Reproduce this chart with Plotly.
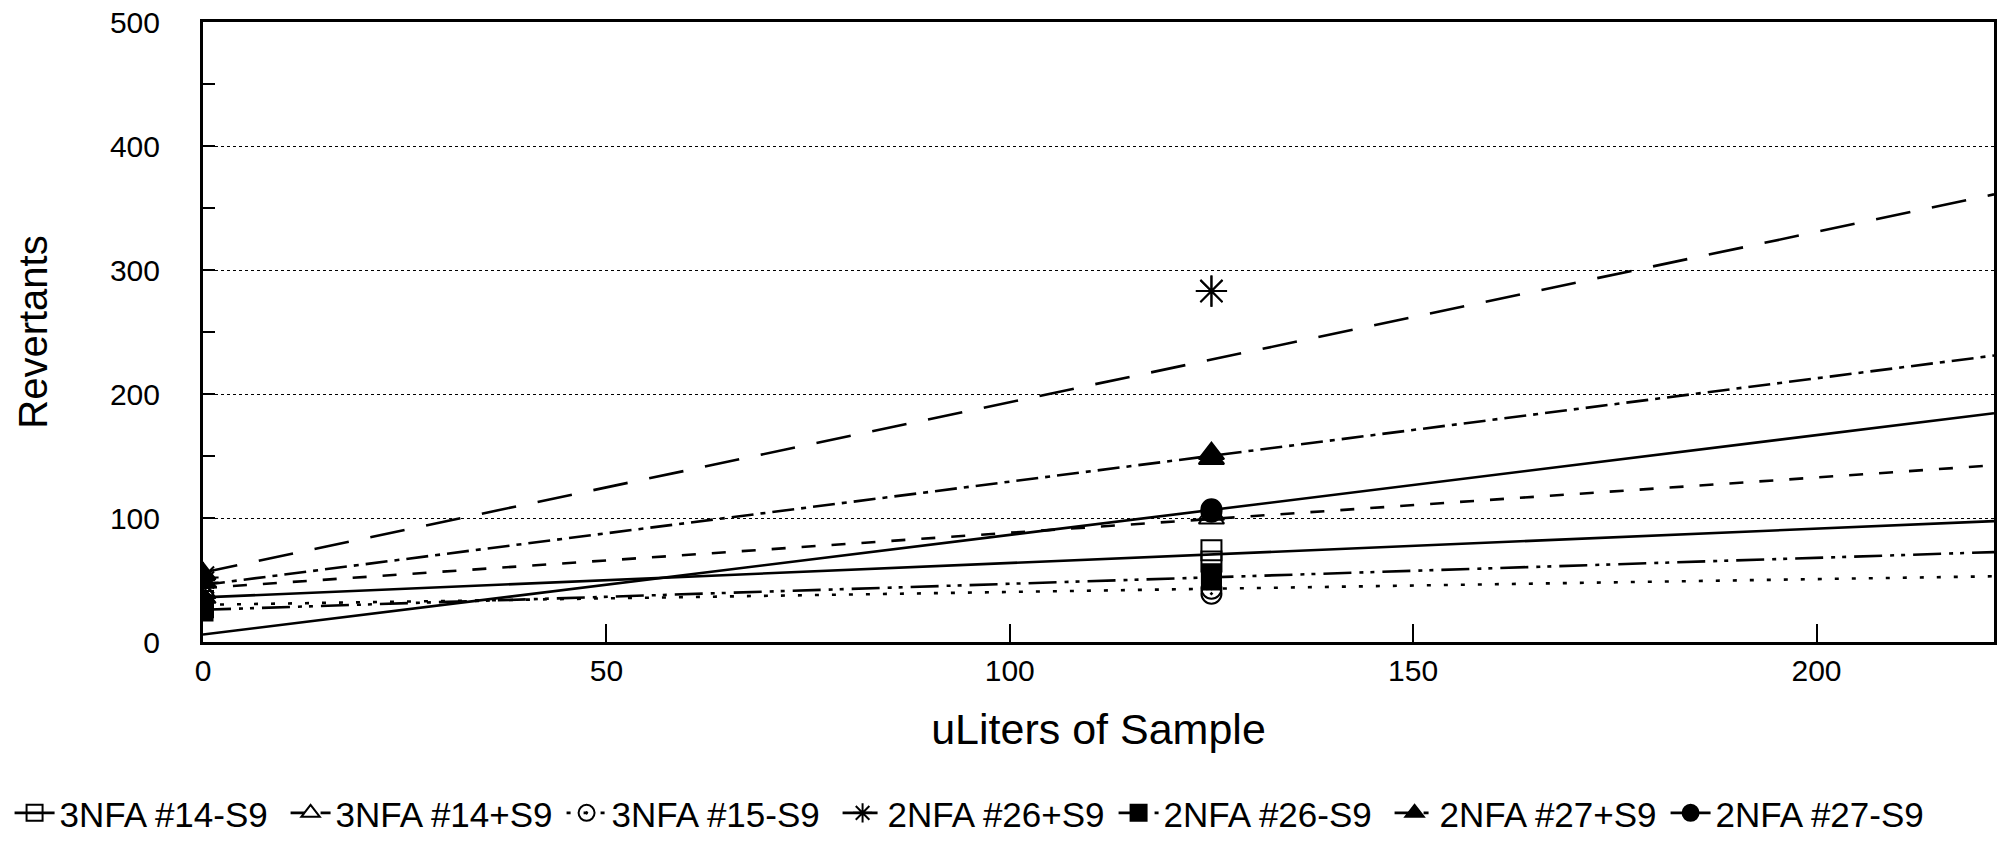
import plotly.graph_objects as go

# ---------------- data ----------------
series_names = ["3NFA #14-S9", "3NFA #14+S9", "3NFA #15-S9", "2NFA #26+S9",
                "2NFA #26-S9", "2NFA #27+S9", "2NFA #27-S9"]

# fitted regression lines, evaluated at the ends of the x range
fit_x = [0, 222]
fit_14_minus = [36, 97.5]
fit_14_plus = [43.5, 142.5]
fit_15_minus = [30, 53]
fit_26_plus = [56, 361]
fit_26_minus = [26, 72.5]
fit_27_plus = [46, 231]
fit_27_minus = [6, 184.5]

# observed points (dose in uL, revertants)
pts_x = [0, 0, 125, 125]
pts_14_minus = [33, 28, 74, 65]
pts_14_plus = [40, 36, 103, 100]
pts_15_minus = [30, 27, 43, 39]
pts_26_plus = [52, 48, 283, 283]
pts_26_minus = [25, 30, 55, 50]
pts_27_plus = [55, 49, 152, 148]
pts_27_minus = [32, 29, 107, 105]

x_ticks = [0, 50, 100, 150, 200]
y_ticks = [0, 100, 200, 300, 400, 500]

fits = [fit_14_minus, fit_14_plus, fit_15_minus, fit_26_plus,
        fit_26_minus, fit_27_plus, fit_27_minus]
pts = [pts_14_minus, pts_14_plus, pts_15_minus, pts_26_plus,
       pts_26_minus, pts_27_plus, pts_27_minus]

# ---------------- styles ----------------
dashes = ["solid", "14px,16px", "4px,13px", "35px,22px",
          "28px,8px,4px,7px,4px,8px", "22px,7px,5px,7px", "solid"]
symbols = ["square-open", "triangle-up-open", "circle-open-dot", "asterisk-open",
           "square", "triangle-up", "circle"]
msizes = [20, 22, 20, 26, 19, 22, 20]

FONT = "Liberation Sans, Arial, Helvetica, sans-serif"

fig = go.Figure()
for name, f, p, d, s, ms in zip(series_names, fits, pts, dashes, symbols, msizes):
    fig.add_trace(go.Scatter(x=fit_x, y=f, mode="lines", showlegend=False,
                             line=dict(color="black", width=2.6, dash=d),
                             legendgroup=name, hoverinfo="skip"))
    fig.add_trace(go.Scatter(x=pts_x, y=p, mode="markers", showlegend=False,
                             legendgroup=name, name=name,
                             marker=dict(symbol=s, size=ms, color="black",
                                         line=dict(color="black", width=2))))
    # legend-only entry
    fig.add_trace(go.Scatter(x=[None], y=[None], mode="lines+markers", name=name,
                             legendgroup=name,
                             line=dict(color="black", width=2.6, dash=d),
                             marker=dict(symbol=s, size=18, color="black",
                                         line=dict(color="black", width=2))))

fig.update_layout(
    width=2013, height=847,
    margin=dict(l=203, r=19, t=22, b=205, autoexpand=False),
    paper_bgcolor="white", plot_bgcolor="white",
    font=dict(family=FONT, color="black", size=30),
    showlegend=True,
    legend=dict(orientation="h", xref="paper", yref="paper",
                x=-0.108, xanchor="left", y=-0.276, yanchor="middle",
                entrywidth=221, entrywidthmode="pixels",
                itemwidth=40, font=dict(size=35, family=FONT),
                bgcolor="rgba(0,0,0,0)", itemclick=False),
    xaxis=dict(range=[0, 222], tickvals=x_ticks, ticks="inside", ticklen=18,
               tickwidth=2, tickcolor="black", showline=True, linecolor="black",
               linewidth=3, mirror=True, showgrid=False, zeroline=False,
               tickfont=dict(size=30), title=dict(text="uLiters of Sample",
               font=dict(size=43), standoff=28)),
    yaxis=dict(range=[0, 500], tickvals=y_ticks, ticks="inside", ticklen=12,
               tickwidth=2, tickcolor="black", showline=True, linecolor="black",
               linewidth=3, mirror=True, showgrid=True, gridcolor="black",
               gridwidth=1.2, griddash="dot", zeroline=False,
               tickfont=dict(size=30), ticklabelstandoff=34,
               minor=dict(tickvals=[50, 150, 250, 350, 450], ticks="inside",
                          ticklen=12, tickwidth=2, tickcolor="black", showgrid=False),
               title=dict(text="Revertants", font=dict(size=40), standoff=50)),
)

fig.write_html("out.html")
